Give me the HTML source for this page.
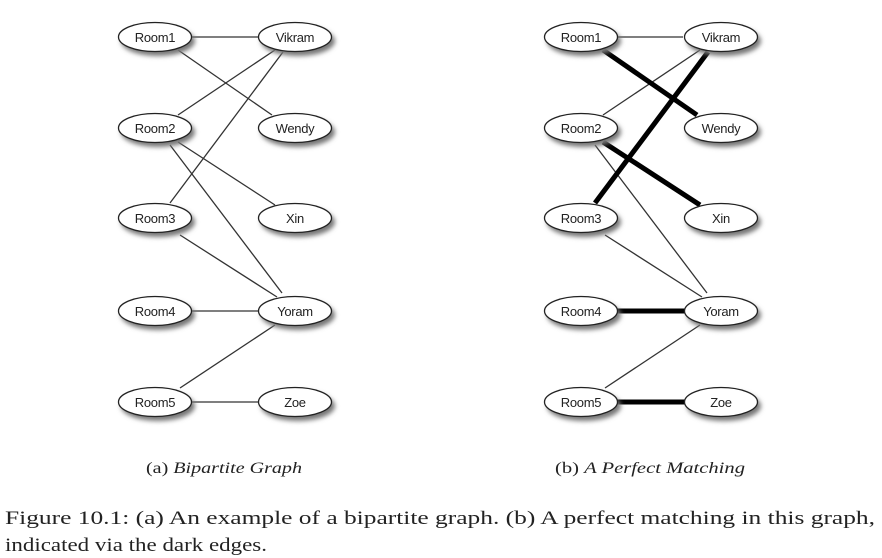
<!DOCTYPE html>
<html><head><meta charset="utf-8"><style>
html,body{margin:0;padding:0;background:#fff;width:882px;height:558px;overflow:hidden}
svg{display:block}
.n{font-family:"Liberation Sans",Arial,sans-serif;font-size:13px;fill:#222;text-anchor:middle;letter-spacing:-0.3px}
.c{font-family:"Liberation Serif",serif;font-size:19px;fill:#222}
</style></head><body>
<svg width="882" height="558" viewBox="0 0 882 558" xmlns="http://www.w3.org/2000/svg">
<defs>
<filter id="sh" x="-30%" y="-50%" width="160%" height="200%"><feGaussianBlur stdDeviation="2.5"/></filter>
<g id="node"><ellipse cx="3" cy="4" rx="37" ry="15" fill="#777" filter="url(#sh)"/><ellipse cx="0" cy="0" rx="36.5" ry="14.5" fill="#fff" stroke="#222" stroke-width="1.3"/></g>
</defs>
<g id="ga" stroke="#333" stroke-width="1.3">
<line x1="192" y1="37" x2="258" y2="37"/>
<line x1="178" y1="50" x2="272" y2="115"/>
<line x1="178" y1="115" x2="275" y2="50"/>
<line x1="170" y1="203" x2="283" y2="52"/>
<line x1="178" y1="142" x2="275" y2="205"/>
<line x1="170" y1="145" x2="282" y2="293"/>
<line x1="180" y1="235" x2="277" y2="297"/>
<line x1="192" y1="311" x2="260" y2="311"/>
<line x1="180" y1="388" x2="275" y2="325"/>
<line x1="192" y1="402" x2="260" y2="402"/>
</g>
<g stroke="#333" stroke-width="1.3">
<line x1="617" y1="37" x2="683" y2="37"/>
<line x1="603" y1="115" x2="700" y2="50"/>
<line x1="595" y1="145" x2="707" y2="293"/>
<line x1="605" y1="235" x2="702" y2="297"/>
<line x1="605" y1="388" x2="700" y2="325"/>
</g>
<g stroke="#000" stroke-width="5">
<line x1="603" y1="50" x2="697" y2="115"/>
<line x1="595" y1="203" x2="708" y2="52"/>
<line x1="603" y1="142" x2="700" y2="205"/>
<line x1="617" y1="311" x2="685" y2="311"/>
<line x1="617" y1="402" x2="685" y2="402"/>
</g>
<use href="#node" x="155" y="37"/><use href="#node" x="155" y="128"/><use href="#node" x="155" y="218"/><use href="#node" x="155" y="311"/><use href="#node" x="155" y="402"/>
<use href="#node" x="295" y="37"/><use href="#node" x="295" y="128"/><use href="#node" x="295" y="218"/><use href="#node" x="295" y="311"/><use href="#node" x="295" y="402"/>
<use href="#node" x="581" y="37"/><use href="#node" x="581" y="128"/><use href="#node" x="581" y="218"/><use href="#node" x="581" y="311"/><use href="#node" x="581" y="402"/>
<use href="#node" x="721" y="37"/><use href="#node" x="721" y="128"/><use href="#node" x="721" y="218"/><use href="#node" x="721" y="311"/><use href="#node" x="721" y="402"/>
<g class="n">
<text x="155" y="42">Room1</text><text x="155" y="133">Room2</text><text x="155" y="223">Room3</text><text x="155" y="316">Room4</text><text x="155" y="407">Room5</text>
<text x="295" y="42">Vikram</text><text x="295" y="133">Wendy</text><text x="295" y="223">Xin</text><text x="295" y="316">Yoram</text><text x="295" y="407">Zoe</text>
<text x="581" y="42">Room1</text><text x="581" y="133">Room2</text><text x="581" y="223">Room3</text><text x="581" y="316">Room4</text><text x="581" y="407">Room5</text>
<text x="721" y="42">Vikram</text><text x="721" y="133">Wendy</text><text x="721" y="223">Xin</text><text x="721" y="316">Yoram</text><text x="721" y="407">Zoe</text>
</g>
<text class="c" x="146" y="473" style="font-size:16px" textLength="156" lengthAdjust="spacingAndGlyphs">(a) <tspan font-style="italic">Bipartite Graph</tspan></text>
<text class="c" x="555" y="473" style="font-size:16px" textLength="190" lengthAdjust="spacingAndGlyphs">(b) <tspan font-style="italic">A Perfect Matching</tspan></text>
<text class="c" x="5" y="524" textLength="870" lengthAdjust="spacingAndGlyphs">Figure 10.1: (a) An example of a bipartite graph.  (b) A perfect matching in this graph,</text>
<text class="c" x="5" y="551" textLength="262" lengthAdjust="spacingAndGlyphs">indicated via the dark edges.</text>
</svg>
</body></html>
